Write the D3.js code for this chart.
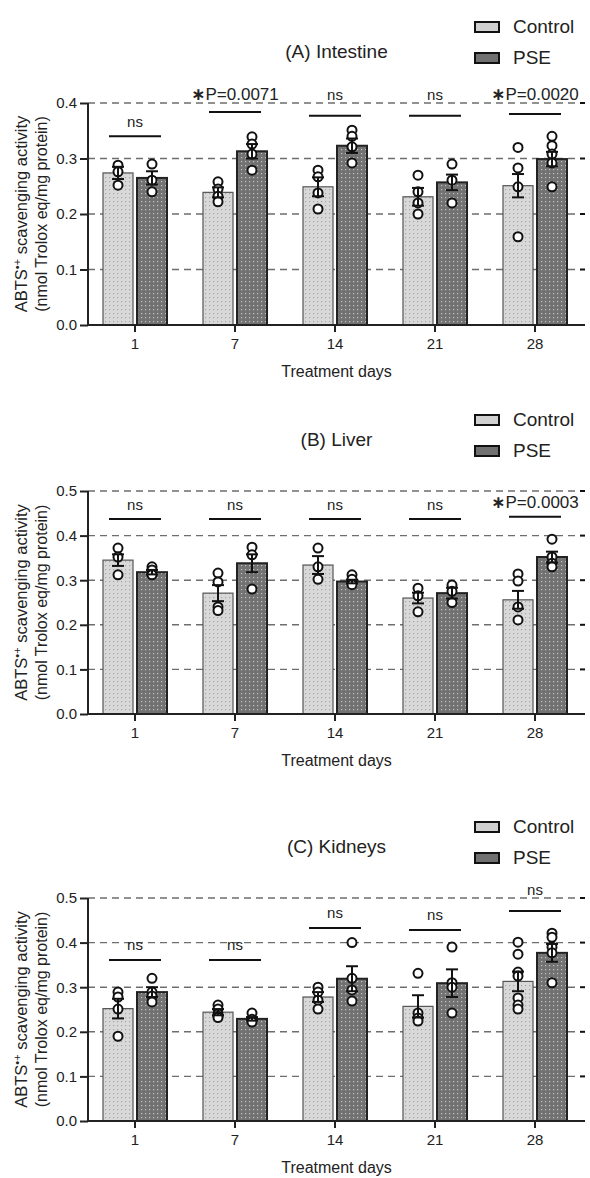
<!DOCTYPE html>
<html>
<head>
<meta charset="utf-8">
<script src="https://cdn.jsdelivr.net/npm/d3@7"></script>
<style>
  body { margin: 0; background: #fff; }
  text { font-family: "Liberation Sans", Arial, sans-serif; fill: #222; }
</style>
</head>
<body>
<script>
// categories
var days = ["1", "7", "14", "21", "28"];
var groups = ["Control", "PSE"];

// (A) Intestine
var ctrlMeanA = [0.274, 0.239, 0.249, 0.231, 0.251];
var pseMeanA  = [0.265, 0.313, 0.323, 0.257, 0.299];
var ctrlSeA   = [0.011, 0.009, 0.017, 0.016, 0.021];
var pseSeA    = [0.012, 0.013, 0.013, 0.014, 0.013];
var ctrlPtsA  = [[0.288, 0.276, 0.252], [0.258, 0.245, 0.232, 0.222], [0.279, 0.267, 0.238, 0.209], [0.27, 0.24, 0.22, 0.2], [0.32, 0.283, 0.249, 0.159]];
var psePtsA   = [[0.29, 0.261, 0.24], [0.339, 0.326, 0.308, 0.279], [0.351, 0.34, 0.321, 0.292], [0.29, 0.261, 0.22], [0.34, 0.323, 0.308, 0.292, 0.249]];
var sigLabelA = ["ns", "P=0.0071", "ns", "ns", "P=0.0020"];
var sigLineA  = [0.34, 0.384, 0.377, 0.377, 0.38];
var sigTextA  = [0.357, 0.405, 0.405, 0.405, 0.405];
var yTicksA   = [0, 0.1, 0.2, 0.3, 0.4];

// (B) Liver
var ctrlMeanB = [0.345, 0.271, 0.334, 0.26, 0.256];
var pseMeanB  = [0.318, 0.338, 0.297, 0.271, 0.352];
var ctrlSeB   = [0.013, 0.018, 0.02, 0.012, 0.02];
var pseSeB    = [0.005, 0.02, 0.004, 0.012, 0.012];
var ctrlPtsB  = [[0.372, 0.352, 0.312], [0.316, 0.296, 0.24, 0.232], [0.372, 0.33, 0.302], [0.282, 0.265, 0.229], [0.314, 0.298, 0.24, 0.211]];
var psePtsB   = [[0.33, 0.323, 0.312], [0.374, 0.357, 0.28], [0.312, 0.302, 0.29], [0.289, 0.275, 0.25], [0.392, 0.352, 0.338, 0.33]];
var sigLabelB = ["ns", "ns", "ns", "ns", "P=0.0003"];
var sigLineB  = [0.437, 0.437, 0.437, 0.437, 0.442];
var sigTextB  = [0.457, 0.457, 0.457, 0.457, 0.462];
var yTicksB   = [0, 0.1, 0.2, 0.3, 0.4, 0.5];

// (C) Kidneys
var ctrlMeanC = [0.252, 0.244, 0.278, 0.257, 0.313];
var pseMeanC  = [0.289, 0.229, 0.319, 0.309, 0.377];
var ctrlSeC   = [0.022, 0.007, 0.011, 0.025, 0.022];
var pseSeC    = [0.011, 0.004, 0.028, 0.031, 0.02];
var ctrlPtsC  = [[0.289, 0.278, 0.251, 0.19], [0.26, 0.251, 0.24, 0.235, 0.232], [0.3, 0.289, 0.271, 0.251], [0.331, 0.242, 0.231, 0.224], [0.401, 0.374, 0.334, 0.325, 0.276, 0.26, 0.251]];
var psePtsC   = [[0.32, 0.289, 0.28, 0.267], [0.242, 0.228, 0.222], [0.4, 0.32, 0.294, 0.269], [0.39, 0.31, 0.3, 0.242], [0.421, 0.412, 0.39, 0.377, 0.31]];
var sigLabelC = ["ns", "ns", "ns", "ns", "ns"];
var sigLineC  = [0.361, 0.361, 0.433, 0.428, 0.471];
var sigTextC  = [0.383, 0.383, 0.455, 0.451, 0.507];
var yTicksC   = [0, 0.1, 0.2, 0.3, 0.4, 0.5];

var w = 590, h = 1178;

var svg = d3.select("body").append("svg")
    .attr("width", w).attr("height", h);

// dotted textures of the bars
var defs = svg.append("defs");
var pc = defs.append("pattern").attr("id", "dotsCtrl")
    .attr("width", 4).attr("height", 4).attr("patternUnits", "userSpaceOnUse");
pc.append("rect").attr("width", 4).attr("height", 4).attr("fill", "#d9d9d9");
pc.append("rect").attr("x", 1).attr("y", 1).attr("width", 1.2).attr("height", 1.2).attr("fill", "#a6a6a6");
var pp = defs.append("pattern").attr("id", "dotsPse")
    .attr("width", 4).attr("height", 4).attr("patternUnits", "userSpaceOnUse");
pp.append("rect").attr("width", 4).attr("height", 4).attr("fill", "#727272");
pp.append("rect").attr("x", 1).attr("y", 1).attr("width", 1.2).attr("height", 1.2).attr("fill", "#c4c4c4");

var panels = [
  {title: "(A) Intestine", top: 103, bottom: 325, legendY: 27, ticks: yTicksA,
   ctrlMean: ctrlMeanA, pseMean: pseMeanA, ctrlSe: ctrlSeA, pseSe: pseSeA,
   ctrlPts: ctrlPtsA, psePts: psePtsA, sigLabel: sigLabelA, sigLine: sigLineA, sigText: sigTextA},
  {title: "(B) Liver", top: 491, bottom: 714, legendY: 420, ticks: yTicksB,
   ctrlMean: ctrlMeanB, pseMean: pseMeanB, ctrlSe: ctrlSeB, pseSe: pseSeB,
   ctrlPts: ctrlPtsB, psePts: psePtsB, sigLabel: sigLabelB, sigLine: sigLineB, sigText: sigTextB},
  {title: "(C) Kidneys", top: 898, bottom: 1121, legendY: 827, ticks: yTicksC,
   ctrlMean: ctrlMeanC, pseMean: pseMeanC, ctrlSe: ctrlSeC, pseSe: pseSeC,
   ctrlPts: ctrlPtsC, psePts: psePtsC, sigLabel: sigLabelC, sigLine: sigLineC, sigText: sigTextC}
];

panels.forEach(drawPanel);

function drawPanel(p) {
    var g = svg.append("g");
    var left = 88, right = 585;

    var x = d3.scaleBand().domain(days).range([85, 585]);
    var xs = d3.scaleBand().domain(groups).range([18, 82]).paddingInner(0.1176);
    var y = d3.scaleLinear().domain([0, d3.max(p.ticks)]).range([p.bottom, p.top]);

    // dashed grid
    var grid = p.ticks.filter(function (t) { return t > 0; });
    g.selectAll(".grid").data(grid).enter().append("line")
        .attr("x1", left).attr("x2", right - 5)
        .attr("y1", function (d) { return y(d); }).attr("y2", function (d) { return y(d); })
        .attr("stroke", "#6e6e6e").attr("stroke-width", 1.4).attr("stroke-dasharray", "7,5");
    g.selectAll(".rtick").data(grid).enter().append("line")
        .attr("x1", right - 5).attr("x2", right)
        .attr("y1", function (d) { return y(d); }).attr("y2", function (d) { return y(d); })
        .attr("stroke", "#111").attr("stroke-width", 2);

    // bars
    var rows = [];
    days.forEach(function (d, i) {
        rows.push({day: d, grp: "Control", mean: p.ctrlMean[i], se: p.ctrlSe[i], pts: p.ctrlPts[i]});
        rows.push({day: d, grp: "PSE", mean: p.pseMean[i], se: p.pseSe[i], pts: p.psePts[i]});
    });
    function cx(r) { return x(r.day) + xs(r.grp) + xs.bandwidth() / 2; }

    g.selectAll(".bar").data(rows).enter().append("rect")
        .attr("x", function (r) { return x(r.day) + xs(r.grp); })
        .attr("width", xs.bandwidth())
        .attr("y", function (r) { return y(r.mean); })
        .attr("height", function (r) { return y(0) - y(r.mean); })
        .attr("fill", function (r) { return r.grp == "Control" ? "url(#dotsCtrl)" : "url(#dotsPse)"; })
        .attr("stroke", function (r) { return r.grp == "Control" ? "#555" : "#222"; })
        .attr("stroke-width", function (r) { return r.grp == "Control" ? 1.2 : 2; });

    // individual points
    rows.forEach(function (r) {
        g.selectAll(null).data(r.pts).enter().append("circle")
            .attr("cx", cx(r)).attr("cy", function (v) { return y(v); })
            .attr("r", 4.5).attr("fill", "#fff").attr("stroke", "#111").attr("stroke-width", 2);
    });

    // error bars (mean +/- SEM)
    var eb = g.selectAll(".eb").data(rows).enter().append("g").attr("stroke", "#111").attr("stroke-width", 2);
    eb.append("line")
        .attr("x1", cx).attr("x2", cx)
        .attr("y1", function (r) { return y(r.mean + r.se); })
        .attr("y2", function (r) { return y(r.mean - r.se); });
    [1, -1].forEach(function (s) {
        eb.append("line")
            .attr("x1", function (r) { return cx(r) - 6; }).attr("x2", function (r) { return cx(r) + 6; })
            .attr("y1", function (r) { return y(r.mean + s * r.se); })
            .attr("y2", function (r) { return y(r.mean + s * r.se); });
    });

    // axes
    var yAxis = g.append("g").attr("transform", "translate(" + left + ",0)")
        .call(d3.axisLeft(y).tickValues(p.ticks).tickFormat(d3.format(".1f")).tickSize(8).tickPadding(3).tickSizeOuter(0));
    var xAxis = g.append("g").attr("transform", "translate(0," + p.bottom + ")")
        .call(d3.axisBottom(x).tickSize(7).tickPadding(6).tickSizeOuter(0));
    [yAxis, xAxis].forEach(function (a) {
        a.select(".domain").remove();
        a.selectAll("line").attr("stroke", "#222").attr("stroke-width", 2);
        a.selectAll("text").attr("font-size", 15).attr("fill", "#333")
            .attr("font-family", "'Liberation Sans', Arial, sans-serif");
    });
    g.append("line").attr("x1", left).attr("x2", right).attr("y1", p.bottom).attr("y2", p.bottom)
        .attr("stroke", "#222").attr("stroke-width", 2);
    g.append("line").attr("x1", left).attr("x2", left).attr("y1", p.top).attr("y2", p.bottom)
        .attr("stroke", "#222").attr("stroke-width", 2);

    // significance brackets
    days.forEach(function (d, i) {
        var c = x(d) + x.bandwidth() / 2;
        g.append("line").attr("x1", c - 26).attr("x2", c + 26)
            .attr("y1", y(p.sigLine[i])).attr("y2", y(p.sigLine[i]))
            .attr("stroke", "#111").attr("stroke-width", 2);
        var t = g.append("text").attr("x", c).attr("y", y(p.sigText[i]))
            .attr("text-anchor", "middle");
        if (p.sigLabel[i] == "ns") {
            t.attr("font-size", 15).text("ns");
        } else {
            t.attr("font-size", 17);
            t.append("tspan").attr("font-family", "DejaVu Sans").attr("font-weight", "bold").text("\u2217");
            t.append("tspan").text(p.sigLabel[i]);
        }
    });

    // labels
    g.append("text").attr("x", (left + right) / 2).attr("y", p.top - 45)
        .attr("text-anchor", "middle").attr("font-size", 19).text(p.title);
    g.append("text").attr("x", (left + right) / 2).attr("y", p.bottom + 52)
        .attr("text-anchor", "middle").attr("font-size", 16).text("Treatment days");

    var mid = (p.top + p.bottom) / 2;
    var yl = g.append("text").attr("transform", "translate(27," + mid + ") rotate(-90)")
        .attr("text-anchor", "middle").attr("font-size", 16.5);
    yl.append("tspan").text("ABTS");
    yl.append("tspan").attr("font-size", 11).attr("dy", -6).text("\u2022+");
    yl.append("tspan").attr("dy", 6).text(" scavenging activity");
    g.append("text").attr("transform", "translate(47," + mid + ") rotate(-90)")
        .attr("text-anchor", "middle").attr("font-size", 16).text("(nmol Trolox eq/mg protein)");

    // legend
    groups.forEach(function (k, i) {
        var ly = p.legendY + i * 31;
        g.append("rect").attr("x", 475).attr("y", ly - 5).attr("width", 24).attr("height", 10)
            .attr("fill", k == "Control" ? "#d0d0d0" : "#707070")
            .attr("stroke", "#111").attr("stroke-width", 2);
        g.append("text").attr("x", 513).attr("y", ly + 6).attr("font-size", 19).text(k);
    });
}
</script>
</body>
</html>
